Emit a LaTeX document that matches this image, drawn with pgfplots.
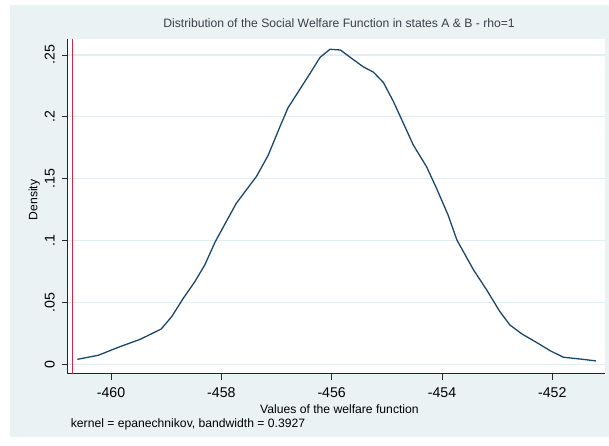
\documentclass[border=0pt]{standalone}
\usepackage{pgfplots}
\pgfplotsset{compat=1.18}
\usepackage{fontspec}
\setmainfont{Liberation Sans}
\definecolor{bgc}{HTML}{EAF2F3}
\definecolor{gridc}{HTML}{E3ECEE}
\definecolor{navyc}{HTML}{1A476F}
\definecolor{redl}{RGB}{215,35,75}
\definecolor{titlec}{HTML}{3A3F4A}
\begin{document}
\begin{tikzpicture}
\path[use as bounding box] (0bp,0bp) rectangle (609bp,446bp);
\fill[white] (0bp,0bp) rectangle (609bp,446bp);
\fill[bgc] (10bp,9bp) rectangle (609bp,441bp);
\begin{axis}[
  at={(67.7bp,72.3bp)}, anchor=south west,
  scale only axis, width=537.3bp, height=334.7bp,
  xmin=-460.785, xmax=-451.045, ymin=-0.0076, ymax=0.2629,
  axis lines*=left,
  axis line style={-, draw=black!85, line width=0.8bp},
  axis background/.style={fill=white},
  tick align=outside, major tick length=6bp,
  tick style={draw=black!85, line width=0.8bp},
  xtick={-460,-458,-456,-454,-452},
  xticklabels={-460,-458,-456,-454,-452},
  ytick={0,0.05,0.1,0.15,0.2,0.25},
  yticklabels={0,.05,.1,.15,.2,.25},
  /pgf/number format/assume math mode=true,
  ticklabel style={font=\fontsize{14.2}{16}\selectfont},
  xticklabel style={anchor=base, yshift=-18bp},
  yticklabel style={rotate=90, anchor=base, yshift=7bp},
  ymajorgrids, grid style={draw=gridc, line width=1.2bp},
  title={Distribution of the Social Welfare Function in states A \& B - rho=1},
  title style={at={(axis description cs:0.505,1.0179)}, anchor=base, font=\fontsize{12.2}{14}\selectfont, text=titlec},
  xlabel={Values of the welfare function},
  xlabel style={at={(axis description cs:0.5057,-0.119)}, anchor=base, font=\fontsize{12.2}{14}\selectfont},
  ylabel={Density},
  ylabel style={at={(axis description cs:-0.0566,0.519)}, anchor=base, font=\fontsize{12.2}{14}\selectfont},
  clip=false,
]
\addplot[redl, line width=1.6bp] coordinates {(-460.70,-0.0076) (-460.70,0.2629)};
\addplot[navyc, line width=1.3bp, line join=round] coordinates {
(-460.61,0.0040) (-460.23,0.0073) (-459.84,0.0142) (-459.47,0.0202)
(-459.09,0.0285) (-458.90,0.0385) (-458.69,0.0533) (-458.48,0.0668)
(-458.30,0.0803) (-458.11,0.0991) (-457.73,0.1300) (-457.36,0.1520)
(-457.15,0.1690) (-456.95,0.1907) (-456.79,0.2074) (-456.39,0.2352)
(-456.21,0.2481) (-456.03,0.2546) (-455.84,0.2540) (-455.64,0.2473)
(-455.43,0.2405) (-455.24,0.2360) (-455.06,0.2276) (-454.88,0.2123)
(-454.70,0.1948) (-454.52,0.1772) (-454.28,0.1597) (-454.10,0.1423)
(-453.89,0.1207) (-453.73,0.1005) (-453.43,0.0764) (-453.19,0.0601)
(-452.95,0.0425) (-452.77,0.0318) (-452.55,0.0245) (-452.28,0.0175)
(-452.04,0.0110) (-451.80,0.0057) (-451.44,0.0040) (-451.21,0.0027)
};
\end{axis}
\node[anchor=base west, font=\fontsize{12.2}{14}\selectfont, inner sep=0pt] at (70.7bp,18.7bp) {kernel = epanechnikov, bandwidth = 0.3927};
\end{tikzpicture}
\end{document}
